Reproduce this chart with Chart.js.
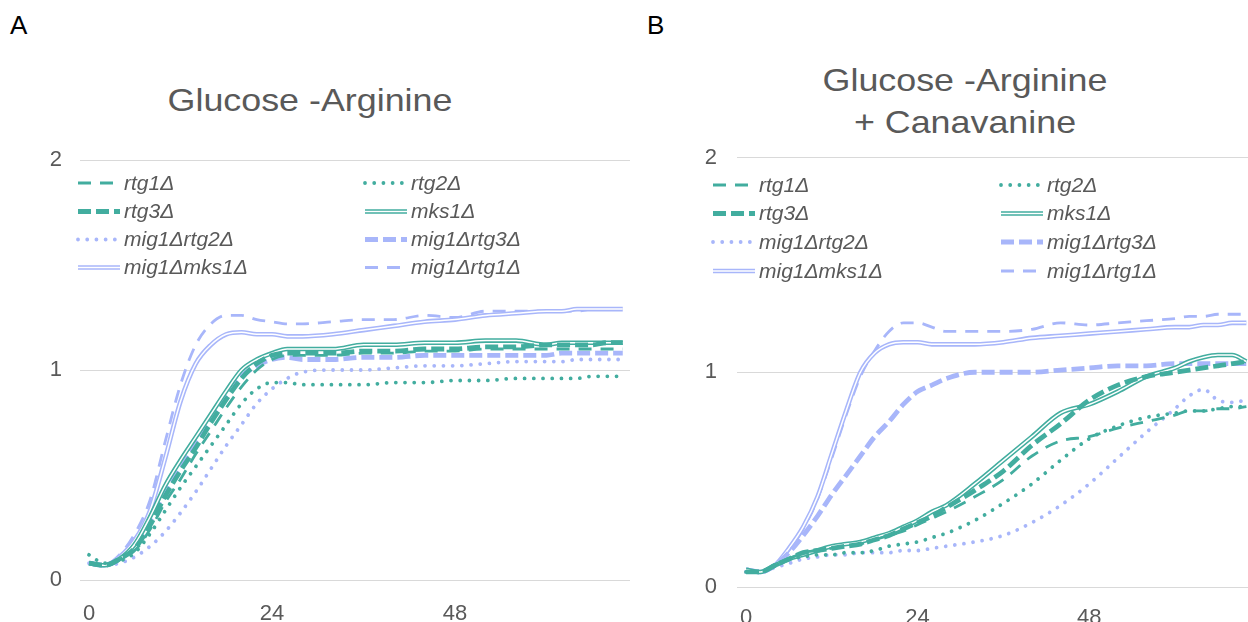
<!DOCTYPE html>
<html>
<head>
<meta charset="utf-8">
<script src="https://cdn.jsdelivr.net/npm/chart.js@4.4.1/dist/chart.umd.min.js"></script>
<style>
    body { margin: 0; width: 1248px; height: 622px; overflow: hidden; background: #fff; position: relative;
           font-family: 'Liberation Sans', Arial, sans-serif; }
    canvas { position: absolute; top: 0; }
    #chartA { left: 0; }
    #chartB { left: 650px; }
    .tag { position: absolute; top: 12px; font-size: 26px; line-height: 26px; color: #000; }
    .title { position: absolute; width: 400px; font-size: 32px; color: #595959; text-align: center;
             white-space: nowrap; transform: scaleX(1.12); }
</style>
</head>
<body>
<div class="tag" style="left:10px">A</div>
<div class="tag" style="left:647px">B</div>
<div class="title" style="left:110px; top:84px; line-height:32px">Glucose -Arginine</div>
<div class="title" style="left:765px; top:59px; line-height:42px">Glucose -Arginine<br>+ Canavanine</div>
<canvas id="chartA" width="650" height="622"></canvas>
<canvas id="chartB" width="640" height="622"></canvas>
<script>
// time points (hours) shared by both panels
const times = [0, 2, 4, 6, 8, 10, 12,  14, 16, 18, 20, 22, 24, 26,  28, 32, 36, 40, 44, 48, 52,  56, 60, 62, 64, 66, 68, 70];
const xTicks = [0, 24, 48];
const yTicks = [0, 1, 2];

// legend order, row by row (two columns)
const strains = ['rtg1Δ', 'rtg2Δ', 'rtg3Δ', 'mks1Δ', 'mig1Δrtg2Δ', 'mig1Δrtg3Δ', 'mig1Δmks1Δ', 'mig1Δrtg1Δ'];

// Panel A: Glucose -Arginine
const aRtg1     = [0.08, 0.07, 0.10, 0.14, 0.24, 0.37, 0.48,  0.60, 0.71, 0.82, 0.92, 1.00, 1.05, 1.07,  1.07, 1.07, 1.08, 1.08, 1.09, 1.09, 1.10,  1.10, 1.10, 1.10, 1.10, 1.10, 1.10, 1.10];
const aRtg2     = [0.12, 0.08, 0.09, 0.13, 0.22, 0.33, 0.44,  0.54, 0.64, 0.74, 0.84, 0.91, 0.94, 0.94,  0.93, 0.93, 0.93, 0.94, 0.94, 0.95, 0.95,  0.96, 0.96, 0.96, 0.96, 0.97, 0.97, 0.97];
const aRtg3     = [0.08, 0.07, 0.10, 0.15, 0.26, 0.40, 0.52,  0.63, 0.75, 0.86, 0.96, 1.03, 1.07, 1.08,  1.08, 1.08, 1.09, 1.09, 1.10, 1.10, 1.11,  1.11, 1.12, 1.12, 1.12, 1.12, 1.13, 1.13];
const aMks1     = [0.08, 0.07, 0.10, 0.17, 0.30, 0.45, 0.57,  0.68, 0.79, 0.90, 1.00, 1.05, 1.08, 1.10,  1.10, 1.10, 1.12, 1.12, 1.13, 1.13, 1.14,  1.14, 1.12, 1.13, 1.13, 1.13, 1.13, 1.13];
const aMig1Rtg2 = [0.08, 0.07, 0.08, 0.11, 0.16, 0.23, 0.32,  0.42, 0.53, 0.64, 0.74, 0.84, 0.91, 0.96,  0.99, 1.00, 1.00, 1.01, 1.02, 1.02, 1.03,  1.04, 1.04, 1.04, 1.05, 1.05, 1.05, 1.05];
const aMig1Rtg3 = [0.08, 0.07, 0.10, 0.16, 0.28, 0.42, 0.54,  0.66, 0.77, 0.88, 0.97, 1.02, 1.05, 1.06,  1.05, 1.05, 1.06, 1.06, 1.07, 1.07, 1.07,  1.07, 1.07, 1.08, 1.08, 1.08, 1.08, 1.08];
const aMig1Mks1 = [0.08, 0.07, 0.11, 0.19, 0.33, 0.58, 0.85,  1.03, 1.12, 1.17, 1.18, 1.17, 1.17, 1.16,  1.16, 1.17, 1.19, 1.21, 1.23, 1.24, 1.26,  1.27, 1.28, 1.28, 1.29, 1.29, 1.29, 1.29];
const aMig1Rtg1 = [0.08, 0.07, 0.12, 0.22, 0.38, 0.66, 0.93,  1.12, 1.22, 1.26, 1.26, 1.24, 1.23, 1.22,  1.22, 1.23, 1.24, 1.24, 1.26, 1.25, 1.28,  1.28, 1.28, 1.28, 1.28, 1.29, 1.29, 1.29];

// Panel B: Glucose -Arginine + Canavanine
const bRtg1     = [0.07, 0.07, 0.10, 0.13, 0.16, 0.17, 0.18,  0.19, 0.20, 0.22, 0.24, 0.26, 0.29, 0.32,  0.35, 0.42, 0.50, 0.61, 0.68, 0.70, 0.74,  0.77, 0.80, 0.82, 0.82, 0.83, 0.83, 0.84];
const bRtg2     = [0.07, 0.07, 0.10, 0.13, 0.14, 0.15, 0.15,  0.16, 0.16, 0.17, 0.19, 0.20, 0.21, 0.23,  0.25, 0.31, 0.39, 0.48, 0.59, 0.69, 0.75,  0.79, 0.81, 0.82, 0.82, 0.83, 0.84, 0.84];
const bRtg3     = [0.07, 0.07, 0.10, 0.13, 0.16, 0.17, 0.18,  0.19, 0.20, 0.22, 0.24, 0.27, 0.30, 0.33,  0.37, 0.45, 0.54, 0.66, 0.76, 0.87, 0.94,  0.98, 1.00, 1.01, 1.02, 1.03, 1.04, 1.05];
const bMks1     = [0.08, 0.07, 0.10, 0.13, 0.15, 0.17, 0.19,  0.20, 0.21, 0.23, 0.25, 0.28, 0.31, 0.35,  0.38, 0.48, 0.59, 0.70, 0.81, 0.85, 0.91,  0.98, 1.02, 1.05, 1.07, 1.08, 1.08, 1.05];
const bMig1Rtg2 = [0.07, 0.07, 0.09, 0.11, 0.13, 0.14, 0.15,  0.15, 0.16, 0.16, 0.16, 0.17, 0.17, 0.18,  0.19, 0.21, 0.24, 0.30, 0.38, 0.48, 0.60,  0.72, 0.83, 0.89, 0.92, 0.87, 0.86, 0.87];
const bMig1Rtg3 = [0.08, 0.07, 0.10, 0.16, 0.24, 0.33, 0.43,  0.52, 0.61, 0.70, 0.77, 0.85, 0.91, 0.94,  0.97, 1.00, 1.00, 1.00, 1.01, 1.02, 1.03,  1.03, 1.04, 1.04, 1.04, 1.04, 1.04, 1.04];
const bMig1Mks1 = [0.08, 0.07, 0.10, 0.18, 0.28, 0.42, 0.62,  0.82, 1.00, 1.09, 1.13, 1.14, 1.14, 1.13,  1.13, 1.13, 1.14, 1.16, 1.17, 1.18, 1.19,  1.20, 1.21, 1.21, 1.22, 1.22, 1.23, 1.23];
const bMig1Rtg1 = [0.08, 0.07, 0.10, 0.17, 0.27, 0.41, 0.60,  0.80, 0.98, 1.10, 1.19, 1.23, 1.23, 1.21,  1.19, 1.19, 1.19, 1.20, 1.23, 1.22, 1.23,  1.24, 1.25, 1.26, 1.26, 1.27, 1.27, 1.27];

const TEAL = '#42ad9f';
const LAV = '#a8b6fa';
const TEXT = '#595959';

// line look of each strain (Excel-like dash types)
const styles = {
    'rtg1Δ':      { color: TEAL, width: 2.8, dash: [13, 9], cap: 'butt' },
    'rtg2Δ':      { color: TEAL, width: 3.8, dash: [0.01, 9.2], cap: 'round' },
    'rtg3Δ':      { color: TEAL, width: 4.8, dash: [13, 5], cap: 'butt' },
    'mks1Δ':      { color: TEAL, width: 4.6, dash: [], cap: 'butt', inner: 1.5 },
    'mig1Δrtg2Δ': { color: LAV,  width: 3.8, dash: [0.01, 9.2], cap: 'round' },
    'mig1Δrtg3Δ': { color: LAV,  width: 4.8, dash: [13, 5], cap: 'butt' },
    'mig1Δmks1Δ': { color: LAV,  width: 4.6, dash: [], cap: 'butt', inner: 1.5 },
    'mig1Δrtg1Δ': { color: LAV,  width: 2.8, dash: [13, 9], cap: 'butt' }
};

Chart.defaults.font.family = "'Liberation Sans', Arial, sans-serif";

// Legend drawn inside the plot area, two columns like the original
const inlineLegend = {
    id: 'inlineLegend',
    afterDatasetsDraw(chart, args, opts) {
        const ctx = chart.ctx;
        ctx.save();
        strains.forEach((name, i) => {
            const st = styles[name];
            const x = opts.cols[i % 2];
            const y = opts.rows[Math.floor(i / 2)];
            ctx.beginPath();
            ctx.setLineDash(st.dash);
            ctx.lineCap = st.cap;
            ctx.lineWidth = st.width;
            ctx.strokeStyle = st.color;
            ctx.moveTo(x, y);
            ctx.lineTo(x + opts.sample, y);
            ctx.stroke();
            if (st.inner) {
                ctx.beginPath();
                ctx.lineWidth = st.inner;
                ctx.strokeStyle = '#fff';
                ctx.moveTo(x, y);
                ctx.lineTo(x + opts.sample, y);
                ctx.stroke();
            }
            ctx.setLineDash([]);
            ctx.fillStyle = TEXT;
            ctx.font = "italic 21px 'Liberation Sans', Arial, sans-serif";
            ctx.textBaseline = 'middle';
            ctx.textAlign = 'left';
            ctx.fillText(name, x + opts.textOffset, y + 1);
        });
        ctx.restore();
    }
};

function buildDatasets(values) {
    const sets = [];
    strains.forEach((name, k) => {
        const st = styles[name];
        const pts = times.map((t, i) => ({ x: t, y: values[k][i] }));
        const common = { data: pts, pointRadius: 0, fill: false, cubicInterpolationMode: 'monotone' };
        if (st.inner) {
            // white core on top of the thick line gives the double-line look
            sets.push(Object.assign({ label: '', borderColor: '#fff', borderWidth: st.inner }, common));
        }
        sets.push(Object.assign({
            label: name, borderColor: st.color, borderWidth: st.width,
            borderDash: st.dash, borderCapStyle: st.cap
        }, common));
    });
    return sets;
}

function createChart(id, values, cfg) {
    const ctx = document.getElementById(id).getContext('2d');
    return new Chart(ctx, {
        type: 'line',
        data: { datasets: buildDatasets(values) },
        plugins: [inlineLegend],
        options: {
            responsive: false,
            animation: false,
            events: [],
            layout: { padding: { left: 0, right: cfg.padRight, top: cfg.padTop, bottom: 0 } },
            plugins: {
                legend: { display: false },
                tooltip: { enabled: false },
                inlineLegend: cfg.legend
            },
            scales: {
                x: {
                    type: 'linear',
                    min: cfg.xMin,
                    max: cfg.xMax,
                    grid: { display: false },
                    border: { display: false },
                    afterBuildTicks: s => { s.ticks = xTicks.map(v => ({ value: v })); },
                    afterFit: s => { s.height = cfg.xHeight; },
                    ticks: { padding: cfg.xPad, color: TEXT, font: { size: 22 }, maxRotation: 0, autoSkip: false }
                },
                y: {
                    min: 0,
                    max: 2,
                    afterBuildTicks: s => { s.ticks = yTicks.map(v => ({ value: v })); },
                    afterFit: s => { s.width = cfg.yWidth; },
                    grid: { color: '#d9d9d9', lineWidth: 1, drawTicks: false },
                    border: { display: false },
                    ticks: { padding: cfg.yPad, color: TEXT, font: { size: 22 } }
                }
            }
        }
    });
}

createChart('chartA',
    [aRtg1, aRtg2, aRtg3, aMks1, aMig1Rtg2, aMig1Rtg3, aMig1Mks1, aMig1Rtg1],
    { xMin: -1.18, xMax: 70.95, padRight: 20, padTop: 160, xHeight: 42, yWidth: 80, xPad: 13, yPad: 18,
      legend: { cols: [78, 365], rows: [183, 211.5, 239.5, 267.5], sample: 42, textOffset: 46 } });

createChart('chartB',
    [bRtg1, bRtg2, bRtg3, bMks1, bMig1Rtg2, bMig1Rtg3, bMig1Mks1, bMig1Rtg1],
    { xMin: -1.26, xMax: 74, padRight: 15, padTop: 157.5, xHeight: 35, yWidth: 87, xPad: 10, yPad: 20,
      legend: { cols: [63, 351], rows: [185, 213.5, 242, 271], sample: 42, textOffset: 46 } });
</script>
</body>
</html>
